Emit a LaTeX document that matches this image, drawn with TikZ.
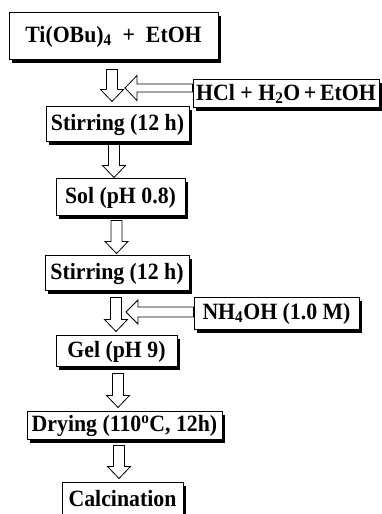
\documentclass[tikz,border=0pt]{standalone}
\usepackage{fontspec}
\setmainfont{Liberation Serif}
\usetikzlibrary{shadows,calc}
\newcommand{\vblock}[5]{%
  \draw[blockarrow] let \p1=(#1.south), \p2=(#2.north) in
    ({#3pt-5.5pt},{\y1-#4pt}) -- ({#3pt+5.5pt},{\y1-#4pt}) --
    ({#3pt+5.5pt},{\y2+#5pt+12pt}) -- ({#3pt+11.5pt},{\y2+#5pt+12pt}) --
    ({#3pt},{\y2+#5pt}) -- ({#3pt-11.5pt},{\y2+#5pt+12pt}) --
    ({#3pt-5.5pt},{\y2+#5pt+12pt}) -- cycle;}
\newcommand{\hblock}[5]{%
  \draw[blockarrow] let \p1=(#1.west) in
    ({\x1},{\y1+#3pt+#4pt}) -- ({#2pt+12pt},{\y1+#3pt+#4pt}) --
    ({#2pt+12pt},{\y1+#3pt+#5pt}) -- ({#2pt},{\y1+#3pt}) --
    ({#2pt+12pt},{\y1+#3pt-#5pt}) -- ({#2pt+12pt},{\y1+#3pt-#4pt}) --
    ({\x1},{\y1+#3pt-#4pt}) -- cycle;}
\newcommand{\tallt}[1]{\scalebox{1}[1.07]{#1}}
\begin{document}
\begin{tikzpicture}[x=1pt,y=1pt,
  box/.style={draw=black, line width=1pt, fill=white, inner sep=0pt,
    align=center, font=\fontsize{21.8}{24}\selectfont\bfseries,
    drop shadow={shadow xshift=3pt,shadow yshift=-3pt,fill=black,opacity=1}},
  blockarrow/.style={draw=black, line width=0.8pt, fill=white, line join=miter}]
\useasboundingbox (0,0) rectangle (382,514);
\clip (0,0) rectangle (382,514);
\node[box, minimum width=209pt, minimum height=47pt] (ti) at (113.5,477.5)
  {\tallt{Ti(OBu)\textsubscript{4}\ \ +\ \ EtOH}};
\node[box, minimum width=186pt, minimum height=28pt] (hcl) at (286,420)
  {\tallt{HCl + H\textsubscript{2}O\,+\,EtOH}};
\node[box, minimum width=143pt, minimum height=35pt] (st1) at (117.5,389.5)
  {\tallt{Stirring (12 h)}};
\node[box, minimum width=129pt, minimum height=37pt] (sol) at (120.5,316.5)
  {\tallt{Sol (pH 0.8)}};
\node[box, minimum width=144pt, minimum height=35pt] (st2) at (117,240.5)
  {\tallt{Stirring (12 h)}};
\node[box, minimum width=165pt, minimum height=32pt] (nh) at (276.5,200)
  {\tallt{NH\textsubscript{4}OH (1.0 M)}};
\node[box, minimum width=121pt, minimum height=31pt] (gel) at (116.5,162.5)
  {\tallt{Gel (pH 9)}};
\node[box, minimum width=195pt, minimum height=28pt] (dry) at (124.5,88)
  {\tallt{Drying (110\textsuperscript{o}C, 12h)}};
\node[box, minimum width=121pt, minimum height=32pt] (cal) at (122.5,15)
  {\tallt{Calcination}};
\vblock{ti}{st1}{112}{9}{5}
\vblock{st1}{sol}{114}{2}{1}
\vblock{sol}{st2}{116.5}{4}{2}
\vblock{st2}{gel}{116}{6}{4}
\vblock{gel}{dry}{118}{6}{4}
\vblock{dry}{cal}{119}{5}{4}
\hblock{hcl}{125}{6}{4}{12.5}
\hblock{nh}{126}{2}{5}{12}
\end{tikzpicture}
\end{document}
